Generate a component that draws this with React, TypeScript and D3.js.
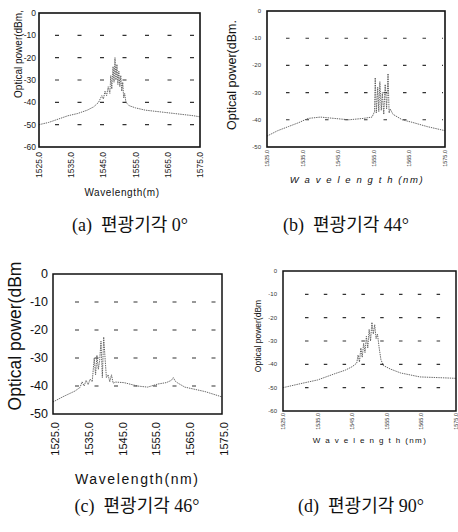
import React from "react"
import * as d3 from "d3"

// wavelength axis, shared by the four spectra
const wavelengthTicks = [1525, 1535, 1545, 1555, 1565, 1575]
const wavelengthLabels = ["1525.0", "1535.0", "1545.0", "1555.0", "1565.0", "1575.0"]
const powerTicks60 = [0, -10, -20, -30, -40, -50, -60]
const powerTicks50 = [0, -10, -20, -30, -40, -50]

// (a) 0 deg
const aWl = [1525, 1528, 1531, 1534, 1537, 1540, 1542, 1543.5, 1544.5, 1545, 1545.5, 1546, 1546.5, 1547, 1547.3, 1547.6, 1548, 1548.3, 1548.6, 1548.9, 1549.2, 1549.5, 1549.8, 1550.1, 1550.4, 1550.7, 1551, 1551.3, 1551.6, 1552, 1553, 1555, 1558, 1561, 1564, 1567, 1570, 1573, 1575]
const aPw = [-50, -49, -47.5, -46, -45, -43.5, -42, -40, -37, -38.5, -35, -37, -33, -36, -28, -34, -24, -31, -20, -30, -23, -32, -26, -33, -28, -35, -31, -38, -36, -40, -41.5, -42.5, -43.5, -44, -44.5, -45, -45.5, -46, -46.5]

// (b) 44 deg
const bWl = [1525, 1528, 1531, 1534, 1536.5, 1540, 1544, 1548, 1552, 1554.5, 1555.2, 1555.4, 1555.7, 1556.1, 1556.4, 1556.7, 1557.1, 1557.4, 1557.8, 1558.2, 1558.6, 1559, 1559.3, 1559.6, 1560.4, 1563, 1566, 1570, 1575]
const bPw = [-46, -44, -42.5, -41, -39.5, -39, -39.5, -40, -39.5, -39, -37, -24.5, -37.5, -28, -37, -26, -36.5, -30, -38, -27, -36, -23, -37.5, -36, -38, -40, -41, -42.5, -44]

// (c) 46 deg
const cWl = [1525, 1528, 1531.5, 1533, 1533.6, 1534.2, 1534.8, 1535.4, 1536, 1536.6, 1537.2, 1537.6, 1538, 1538.4, 1538.8, 1539.2, 1539.6, 1540, 1540.4, 1540.8, 1541.3, 1541.8, 1542.3, 1542.8, 1543.5, 1546, 1550, 1553, 1556, 1558.5, 1560, 1560.6, 1561.2, 1562, 1564, 1567, 1570, 1575]
const cPw = [-45.7, -43.8, -41.8, -40.5, -38.5, -40, -38, -39.5, -37.5, -38.5, -30, -36, -29, -34, -31, -24, -37, -22.5, -30, -37, -36, -38.5, -36, -39, -38.6, -38.8, -40, -40.4, -39.3, -38.8, -38, -37, -38.3, -39, -40.4, -41.2, -42, -43.9]

// (d) 90 deg
const dWl = [1525, 1530, 1535, 1540, 1543, 1545, 1546.3, 1546.7, 1547.1, 1547.5, 1547.9, 1548.3, 1548.7, 1549.1, 1549.5, 1549.9, 1550.3, 1550.7, 1551.1, 1551.5, 1551.9, 1552.3, 1552.8, 1553.3, 1554, 1556, 1559, 1564.6, 1570, 1575]
const dPw = [-50, -48.3, -46.7, -44, -42.5, -41, -39.5, -36, -39, -33, -37, -31, -35, -28, -33, -25, -30, -22, -27, -23, -29, -27, -33, -38, -40.5, -42, -43.7, -45.4, -45.7, -46]

const captions = ["(a)  편광기각 0°", "(b)  편광기각 44°", "(c)  편광기각 46°", "(d)  편광기각 90°"]

const sans = "'Liberation Sans', Arial, sans-serif"
const serif = "'Liberation Serif', 'Noto Sans CJK KR', serif"

type Spec = {
  wl: number[]
  pw: number[]
  yTicks: number[]
  x0: number
  x1: number
  yTop: number
  yBot: number
  tickFont: number
  yTickX: number
  xTickFont: number
  xTickTop: number
  xTickDx: number
  yLabel: { text: string; x: number; y: number; size: number }
  xLabel: { text: string; x: number; y: number; size: number; spacing: number; italic: boolean; anchor: string }
  grid: { start: number; period: number; dash: number; width: number }
  frame: number
  ink: string
}

function Panel({ s }: { s: Spec }) {
  const yMin = s.yTicks[s.yTicks.length - 1]
  const x = d3.scaleLinear().domain([1525, 1575]).range([s.x0, s.x1])
  const y = d3.scaleLinear().domain([yMin, 0]).range([s.yBot, s.yTop])
  const pts: [number, number][] = s.wl.map((w, i) => [w, s.pw[i]])
  const line = d3.line<[number, number]>().x(d => x(d[0])).y(d => y(d[1]))
  const rows = s.yTicks.filter(t => t !== 0 && t !== yMin)

  return (
    <g>
      {rows.map(t => (
        <line key={t} x1={s.x0 + s.grid.start} x2={s.x1 - 2} y1={y(t)} y2={y(t)}
          stroke="#333" strokeWidth={s.grid.width}
          strokeDasharray={`${s.grid.dash} ${s.grid.period - s.grid.dash}`} />
      ))}
      <path d={line(pts) ?? ""} fill="none" stroke="#555" strokeWidth={0.9} strokeDasharray="1.4 0.9" />
      <rect x={s.x0} y={s.yTop} width={s.x1 - s.x0} height={s.yBot - s.yTop}
        fill="none" stroke="#111" strokeWidth={s.frame} />
      {s.yTicks.map(t => (
        <text key={t} x={s.yTickX} y={y(t)} fontSize={s.tickFont} fontFamily={sans}
          textAnchor="end" dominantBaseline="central" fill={s.ink}>{t}</text>
      ))}
      {wavelengthTicks.map((w, i) => (
        <text key={w} transform={`translate(${x(w) + s.xTickDx},${s.xTickTop}) rotate(-90)`}
          fontSize={s.xTickFont} fontFamily={sans} textAnchor="end" dominantBaseline="central"
          fill={s.ink}>{wavelengthLabels[i]}</text>
      ))}
      <text transform={`translate(${s.yLabel.x},${s.yLabel.y}) rotate(-90)`} fontSize={s.yLabel.size}
        fontFamily={sans} textAnchor="middle" fill="#111">{s.yLabel.text}</text>
      <text x={s.xLabel.x} y={s.xLabel.y} fontSize={s.xLabel.size} fontFamily={sans}
        fontStyle={s.xLabel.italic ? "italic" : "normal"} letterSpacing={s.xLabel.spacing}
        textAnchor={s.xLabel.anchor} fill="#111">{s.xLabel.text}</text>
    </g>
  )
}

const panels: Spec[] = [
  {
    wl: aWl, pw: aPw, yTicks: powerTicks60,
    x0: 39, x1: 200, yTop: 13, yBot: 147,
    tickFont: 8.5, yTickX: 36, xTickFont: 8.5, xTickTop: 152, xTickDx: 0,
    yLabel: { text: "Optical power(dBm,", x: 22, y: 54, size: 10 },
    xLabel: { text: "Wavelength(m)", x: 122, y: 196, size: 10, spacing: 0.6, italic: false, anchor: "middle" },
    grid: { start: 16, period: 22.5, dash: 4, width: 1.2 }, frame: 1.6, ink: "#222",
  },
  {
    wl: bWl, pw: bPw, yTicks: powerTicks50,
    x0: 267, x1: 445, yTop: 11, yBot: 147,
    tickFont: 6, yTickX: 261, xTickFont: 5.5, xTickTop: 150, xTickDx: 0,
    yLabel: { text: "Optical power(dBm.", x: 236, y: 75, size: 12.5 },
    xLabel: { text: "W a v e l e n g t h (nm)", x: 357, y: 183, size: 9.5, spacing: 1.6, italic: true, anchor: "middle" },
    grid: { start: 19, period: 19.5, dash: 3.5, width: 1.1 }, frame: 1.6, ink: "#333",
  },
  {
    wl: cWl, pw: cPw, yTicks: powerTicks50,
    x0: 53, x1: 222, yTop: 274, yBot: 414,
    tickFont: 12.5, yTickX: 48, xTickFont: 11, xTickTop: 422, xTickDx: 2,
    yLabel: { text: "Optical power(dBm", x: 21, y: 336, size: 17.5 },
    xLabel: { text: "Wavelength(nm)", x: 75, y: 484, size: 14, spacing: 1.6, italic: false, anchor: "start" },
    grid: { start: 22, period: 19.5, dash: 4, width: 1.2 }, frame: 1.5, ink: "#111",
  },
  {
    wl: dWl, pw: dPw, yTicks: powerTicks60,
    x0: 283, x1: 456, yTop: 271, yBot: 411,
    tickFont: 6, yTickX: 277, xTickFont: 5.5, xTickTop: 413, xTickDx: 0,
    yLabel: { text: "Optical power(dBm", x: 261, y: 336, size: 8.5 },
    xLabel: { text: "W a v e l e n g t h (nm)", x: 370, y: 443, size: 8, spacing: 1.4, italic: false, anchor: "middle" },
    grid: { start: 22, period: 18.8, dash: 3.5, width: 1.1 }, frame: 1.5, ink: "#333",
  },
]

const captionPos = [
  { x: 130, y: 231 },
  { x: 346, y: 231 },
  { x: 137, y: 512 },
  { x: 361, y: 512 },
]

export default function App() {
  return (
    <div style={{ position: "fixed", left: 0, top: 0, background: "#fff" }}>
      <svg width={458} height={532} viewBox="0 0 458 532" style={{ display: "block" }}>
        <rect width={458} height={532} fill="#fff" />
        {panels.map((s, i) => <Panel key={i} s={s} />)}
        {captions.map((c, i) => (
          <text key={c} x={captionPos[i].x} y={captionPos[i].y} fontSize={18} fontFamily={serif}
            textAnchor="middle" fill="#111" style={{ whiteSpace: "pre" }}>{c}</text>
        ))}
      </svg>
    </div>
  )
}
